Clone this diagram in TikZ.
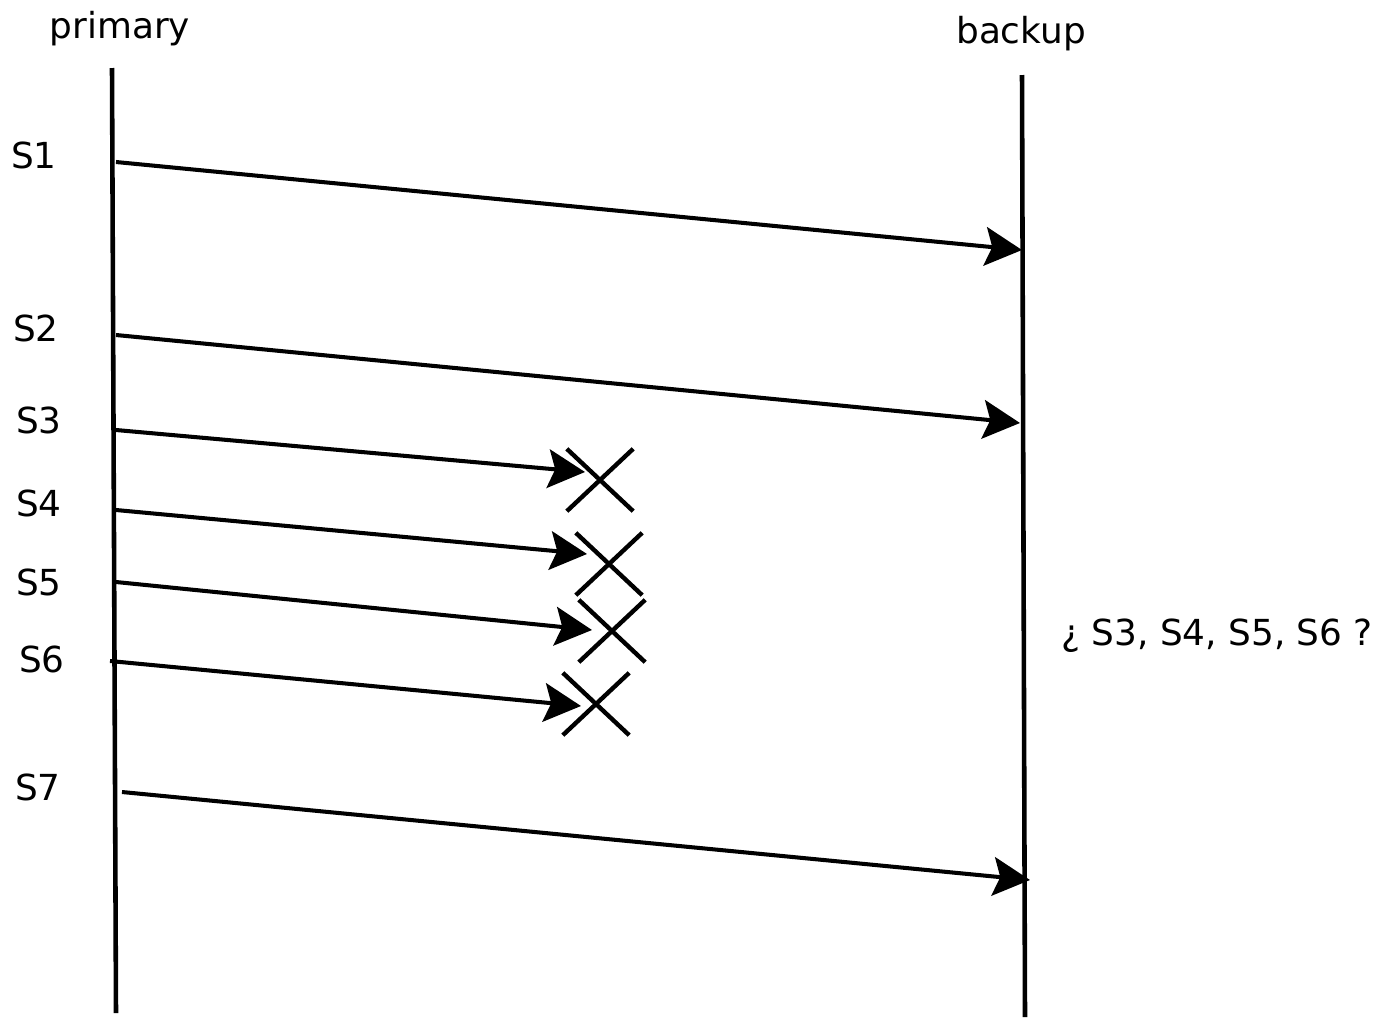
\documentclass[tikz,border=0pt]{standalone}
\usepackage{fontspec}
\setmainfont{DejaVu Sans}
\usetikzlibrary{arrows.meta,shapes.misc}
\begin{document}
\begin{tikzpicture}[x=0.02cm,y=-0.02cm,
  lifeline/.style={line width=2.6pt},
  msg/.style={line width=2.3pt,-{Stealth[length=21pt,width=22pt,inset=4pt]}},
  lost/.style={cross out,draw,line width=2.5pt,minimum width=1.24cm,minimum height=1.16cm,inner sep=0pt},
  lbl/.style={anchor=base,inner sep=0pt,font=\fontsize{20.4pt}{24pt}\selectfont}]
\useasboundingbox[fill=white] (0,0) rectangle (1379,1018);

% process names
\node[lbl] (primary) at (120,38) {primary};
\node[lbl] (backup) at (1021,43) {backup};

% lifelines
\coordinate (ptop) at (112,68);
\coordinate (pbot) at (116,1013);
\coordinate (btop) at (1022,75);
\coordinate (bbot) at (1025,1017);
\draw[lifeline] (ptop) -- (pbot);
\draw[lifeline] (btop) -- (bbot);

% state labels
\node[lbl] (l1) at (34,168) {S1};
\node[lbl] (l2) at (36,341) {S2};
\node[lbl] (l3) at (39,433) {S3};
\node[lbl] (l4) at (39,516) {S4};
\node[lbl] (l5) at (39,595) {S5};
\node[lbl] (l6) at (42,672) {S6};
\node[lbl] (l7) at (38,800) {S7};

% message endpoints
\coordinate (s1a) at (116,162);  \coordinate (s1b) at (1022,250);
\coordinate (s2a) at (116,335);  \coordinate (s2b) at (1020,423);
\coordinate (s3a) at (116,430);  \coordinate (s3b) at (585,472);
\coordinate (s4a) at (116,510);  \coordinate (s4b) at (587,554);
\coordinate (s5a) at (116,582);  \coordinate (s5b) at (592,630);
\coordinate (s6a) at (110,661);  \coordinate (s6b) at (581,706);
\coordinate (s7a) at (122,792);  \coordinate (s7b) at (1030,880);

% lost-message markers
\node[lost] (x3) at (600,480) {};
\node[lost] (x4) at (609,564) {};
\node[lost] (x5) at (612,631) {};
\node[lost] (x6) at (596,704) {};

% messages
\draw[msg] (s1a) -- (s1b);
\draw[msg] (s2a) -- (s2b);
\draw[msg] (s3a) -- (s3b);
\draw[msg] (s4a) -- (s4b);
\draw[msg] (s5a) -- (s5b);
\draw[msg] (s6a) -- (s6b);
\draw[msg] (s7a) -- (s7b);

% question on the backup side
\node[lbl,anchor=base west] (q) at (1061,645) {¿ S3, S4, S5, S6 ?};
\end{tikzpicture}
\end{document}
